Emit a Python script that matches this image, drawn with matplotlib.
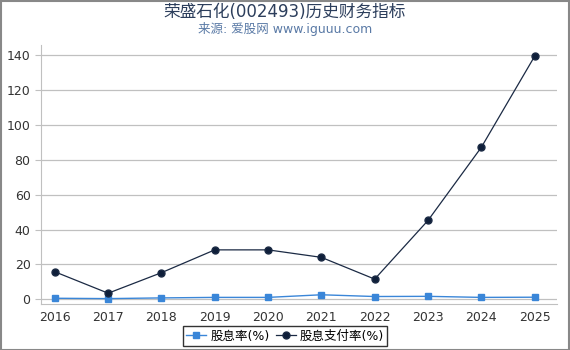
import matplotlib
matplotlib.use("Agg")
from matplotlib import pyplot as plt

plt.rcParams['font.family'] = ['DejaVu Sans', 'Noto Sans CJK SC']

years = ['2016', '2017', '2018', '2019', '2020', '2021', '2022', '2023', '2024', '2025']
dividend_yield = [0.5, 0.3, 0.7, 1.0, 1.0, 2.5, 1.5, 1.6, 1.0, 1.1]
payout_ratio = [15.7, 3.4, 15.2, 28.3, 28.3, 24.0, 11.5, 45.2, 87.2, 139.5]
yticks = [0, 20, 40, 60, 80, 100, 120, 140]

fig = plt.figure(figsize=(5.7, 3.5), dpi=100)
ax = fig.add_axes([41 / 570, 1 - 304 / 350, 516 / 570, 259 / 350])

x = list(range(len(years)))
ax.plot(x, dividend_yield, color='#3a86d8', marker='s', markersize=5, linewidth=1,
        label='股息率(%)')
ax.plot(x, payout_ratio, color='#1b2a44', marker='o', markersize=5, linewidth=0.9,
        markerfacecolor='#0f1f3a', label='股息支付率(%)')

ax.set_xlim(-0.26, 9.42)
ax.set_ylim(-2.8, 146)
ax.set_xticks(x)
ax.set_xticklabels(years)
ax.set_yticks(yticks)
ax.grid(axis='y', color='#c0c0c0', linewidth=0.9)
ax.set_axisbelow(True)
for side in ['top', 'right']:
    ax.spines[side].set_visible(False)
for side in ['left', 'bottom']:
    ax.spines[side].set_color('#c0c0c0')
ax.tick_params(axis='both', colors='#c0c0c0', labelcolor='#333333', labelsize=9, length=4)
ax.tick_params(axis='x', length=0, pad=5)

fig.text(0.5, 0.965, '荣盛石化(002493)历史财务指标', ha='center', va='center',
         fontsize=12, color='#2c3e5c')
fig.text(0.5, 0.918, '来源: 爱股网 www.iguuu.com', ha='center', va='center',
         fontsize=9, color='#5a7aa6')

leg = fig.legend(loc='center', bbox_to_anchor=(0.5, 0.04), ncol=2, fontsize=9,
                 frameon=True, fancybox=False, handlelength=1.6, handletextpad=0.3,
                 columnspacing=0.5, borderpad=0.3)
leg.get_frame().set_edgecolor('black')
leg.get_frame().set_linewidth(1)

fig.patches.append(plt.Rectangle((0.001, 0.001), 0.997, 0.997, transform=fig.transFigure,
                                 fill=False, edgecolor='#888888', linewidth=1.5))

fig.savefig('out.png', dpi=100)
